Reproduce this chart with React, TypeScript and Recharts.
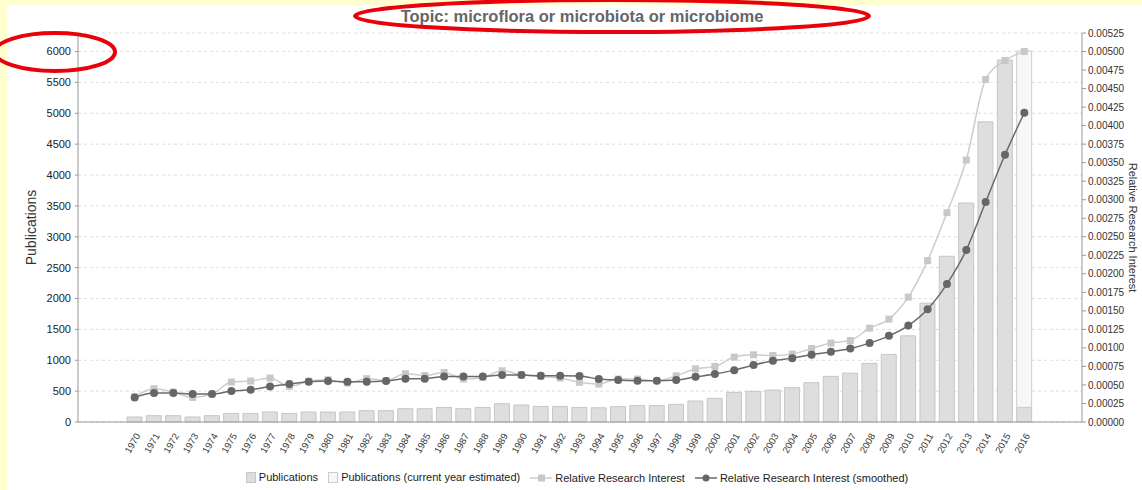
import { Bar, CartesianGrid, ComposedChart, Line, XAxis, YAxis } from 'recharts';

const years = [
  '1970', '1971', '1972', '1973', '1974', '1975', '1976', '1977', '1978', '1979',
  '1980', '1981', '1982', '1983', '1984', '1985', '1986', '1987', '1988', '1989',
  '1990', '1991', '1992', '1993', '1994', '1995', '1996', '1997', '1998', '1999',
  '2000', '2001', '2002', '2003', '2004', '2005', '2006', '2007', '2008', '2009',
  '2010', '2011', '2012', '2013', '2014', '2015', '2016',
];

const publications = [
  81, 102, 102, 81, 102, 139, 139, 162, 139, 162,
  162, 162, 183, 183, 215, 215, 236, 215, 236, 296,
  275, 252, 252, 236, 230, 249, 265, 265, 286, 340,
  383, 480, 496, 517, 556, 637, 739, 792, 949, 1095,
  1395, 1924, 2684, 3546, 4861, 5863, 236,
];

// only the current year has an estimate
const estimated: (number | null)[] = [
  ...Array(46).fill(null), 6010,
];

const relativeInterest = [
  0.00034, 0.000449, 0.000404, 0.000332, 0.000377, 0.000539, 0.000553, 0.000593, 0.00048, 0.00055,
  0.00057, 0.000526, 0.000584, 0.00056, 0.000651, 0.000628, 0.000668, 0.00058, 0.000601, 0.000691,
  0.000637, 0.000615, 0.000593, 0.000536, 0.000512, 0.00058, 0.00058, 0.000557, 0.000624, 0.000718,
  0.00075, 0.000876, 0.000907, 0.000898, 0.000916, 0.000992, 0.001065, 0.0011, 0.001267, 0.001388,
  0.001685, 0.002178, 0.002825, 0.003535, 0.004623, 0.004879, 0.005,
];

const relativeSmoothed = [
  0.000332, 0.000391, 0.000391, 0.000377, 0.000377, 0.000418, 0.000435, 0.00048, 0.000512, 0.000543,
  0.000553, 0.000543, 0.000543, 0.000553, 0.000584, 0.000584, 0.000615, 0.000615, 0.000615, 0.000633,
  0.000633, 0.000624, 0.000624, 0.00062, 0.00058, 0.000566, 0.000557, 0.000557, 0.000566, 0.00061,
  0.000647, 0.0007, 0.000768, 0.000826, 0.000862, 0.000907, 0.000947, 0.000992, 0.001065, 0.001163,
  0.001302, 0.001523, 0.001864, 0.002322, 0.002969, 0.003606, 0.004173,
];

const leftTicks = [0, 500, 1000, 1500, 2000, 2500, 3000, 3500, 4000, 4500, 5000, 5500, 6000];
const rightTicks = Array.from({ length: 22 }, (_, i) => +(i * 0.00025).toFixed(5));

const data = years.map((year, i) => ({
  year,
  publications: publications[i],
  estimatedExtra: estimated[i] == null ? null : (estimated[i] as number) - publications[i],
  relative: relativeInterest[i],
  smoothed: relativeSmoothed[i],
}));

const tickFont = { fontFamily: '"Liberation Sans", Arial, sans-serif', fontSize: 10, fill: '#333' };

function YearTick({ x, y, payload }: any) {
  return (
    <text
      x={x + 3}
      y={y + 4}
      transform={`rotate(-60 ${x + 3} ${y + 4})`}
      textAnchor="end"
      dominantBaseline="central"
      style={{ ...tickFont, fontSize: 9.5 }}
    >
      {payload.value}
    </text>
  );
}

function SquareDot({ cx, cy, index }: any) {
  if (cx == null || cy == null) return <g key={index} />;
  return <rect key={index} x={cx - 3.5} y={cy - 3.5} width={7} height={7} fill="#c8c8c8" />;
}

function LegendItem({ icon, label }: { icon: React.ReactNode; label: string }) {
  return (
    <span style={{ display: 'inline-flex', alignItems: 'center', marginRight: 10 }}>
      {icon}
      <span style={{ marginLeft: 3 }}>{label}</span>
    </span>
  );
}

export default function App() {
  return (
    <div style={{ position: 'fixed', left: 0, top: 0, width: 1142, height: 490, background: '#ffffcf', overflow: 'hidden' }}>
      <div style={{ position: 'absolute', left: 7, top: 5, width: 1135, height: 485, background: '#fff' }}>
        <div
          style={{
            position: 'absolute', left: 0, top: 2, width: 1150, textAlign: 'center',
            fontFamily: '"Liberation Sans", Arial, sans-serif', fontWeight: 'bold', fontSize: 16.5, color: '#666',
          }}
        >
          Topic: microflora or microbiota or microbiome
        </div>
        <ComposedChart
          width={1135}
          height={485}
          data={data}
          margin={{ top: 28, right: 0, bottom: 0, left: 0 }}
          style={{ position: 'absolute', left: 0, top: 0 }}
        >
          <CartesianGrid vertical={false} stroke="#dddddd" strokeDasharray="3 3" yAxisId="left" />
          <XAxis
            dataKey="year"
            height={68}
            interval={0}
            padding={{ left: 47, right: 48 }}
            stroke="#999"
            tickLine={false}
            tick={<YearTick />}
          />
          <XAxis xAxisId="top" dataKey="year" orientation="top" height={0} tick={false} tickLine={false} stroke="#aaa" />
          <YAxis
            yAxisId="left"
            width={71}
            domain={[0, 6300]}
            ticks={leftTicks}
            stroke="#999"
            tickSize={3}
            tickMargin={4}
            tick={{ ...tickFont, fontSize: 11, fill: '#222' }}
            label={{
              value: 'Publications', angle: -90, position: 'insideLeft', offset: 24,
              style: { fontFamily: '"Liberation Sans", Arial, sans-serif', fontSize: 14, fill: '#333', textAnchor: 'middle' },
            }}
          />
          <YAxis
            yAxisId="right"
            orientation="right"
            width={60}
            domain={[0, 0.00525]}
            ticks={rightTicks}
            stroke="#999"
            tickSize={4}
            tick={tickFont}
            tickFormatter={(v: number) => v.toFixed(5)}
            label={{
              value: 'Relative Research Interest', angle: 90, position: 'insideRight', offset: 9,
              style: { fontFamily: '"Liberation Sans", Arial, sans-serif', fontSize: 11, fill: '#333', textAnchor: 'middle' },
            }}
          />
          <Bar yAxisId="left" dataKey="publications" stackId="p" barSize={15} fill="#dedede" stroke="#c6c6c6" isAnimationActive={false} />
          <Bar yAxisId="left" dataKey="estimatedExtra" stackId="p" barSize={15} fill="#f7f7f7" stroke="#cccccc" isAnimationActive={false} />
          <Line
            yAxisId="right"
            type="monotone"
            dataKey="relative"
            stroke="#cdcdcd"
            strokeWidth={1.5}
            dot={(p: any) => <SquareDot key={p.index} {...p} />}
            isAnimationActive={false}
          />
          <Line
            yAxisId="right"
            type="monotone"
            dataKey="smoothed"
            stroke="#6a6a6a"
            strokeWidth={1.5}
            dot={{ r: 4, fill: '#666', stroke: '#666', strokeWidth: 0 }}
            isAnimationActive={false}
          />
        </ComposedChart>
        <div
          style={{
            position: 'absolute', left: 0, top: 466, width: 1150, textAlign: 'center',
            fontFamily: '"Liberation Sans Narrow", "Liberation Sans", Arial, sans-serif', fontSize: 11, color: '#222',
          }}
        >
          <LegendItem
            label="Publications"
            icon={<span style={{ display: 'inline-block', width: 8, height: 9, background: '#dedede', border: '1px solid #c6c6c6' }} />}
          />
          <LegendItem
            label="Publications (current year estimated)"
            icon={<span style={{ display: 'inline-block', width: 8, height: 9, background: '#f7f7f7', border: '1px solid #cccccc' }} />}
          />
          <LegendItem
            label="Relative Research Interest"
            icon={
              <svg width={22} height={10}>
                <line x1={0} y1={5} x2={22} y2={5} stroke="#cdcdcd" strokeWidth={1.5} />
                <rect x={8} y={1.5} width={7} height={7} fill="#c8c8c8" />
              </svg>
            }
          />
          <LegendItem
            label="Relative Research Interest (smoothed)"
            icon={
              <svg width={22} height={10}>
                <line x1={0} y1={5} x2={22} y2={5} stroke="#6a6a6a" strokeWidth={1.5} />
                <circle cx={11} cy={5} r={3.5} fill="#666" />
              </svg>
            }
          />
        </div>
      </div>
      <svg width={1142} height={490} style={{ position: 'absolute', left: 0, top: 0, pointerEvents: 'none' }}>
        <ellipse cx={612} cy={16} rx={257} ry={16} fill="none" stroke="#e8000b" strokeWidth={4} />
        <ellipse cx={55} cy={52} rx={60} ry={19} fill="none" stroke="#e8000b" strokeWidth={4} />
      </svg>
    </div>
  );
}
